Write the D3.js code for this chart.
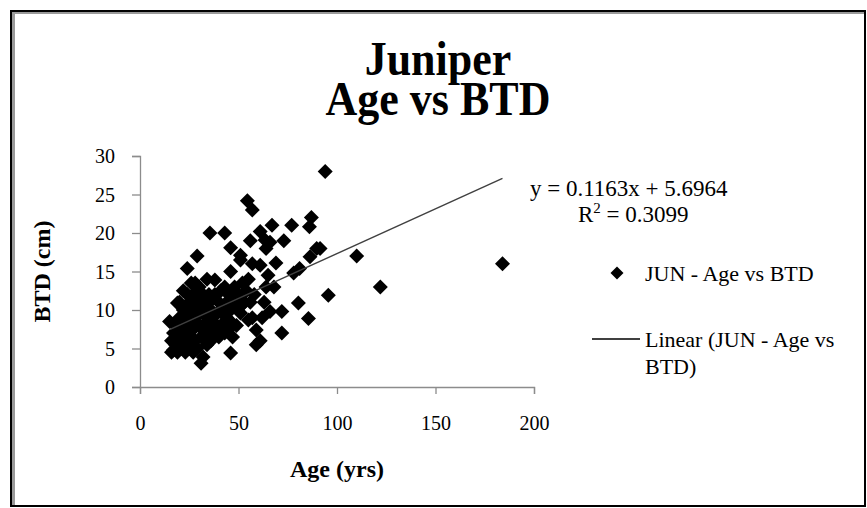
<!DOCTYPE html>
<html>
<head>
<meta charset="utf-8">
<script src="https://cdn.jsdelivr.net/npm/d3@7"></script>
<style>
  html, body { margin: 0; padding: 0; background: #fff; }
  svg { display: block; }
  text { font-family: "Liberation Serif", "Times New Roman", serif; fill: #000; }
</style>
</head>
<body>
<svg id="chart" width="867" height="508"></svg>
<script>
// ---- data ----
const titleLines = ["Juniper", "Age vs BTD"];
const xLabel = "Age (yrs)";
const yLabel = "BTD (cm)";
const seriesName = "JUN - Age vs BTD";
const trendName = ["Linear (JUN - Age vs", "BTD)"];
const xTicks = [0, 50, 100, 150, 200];
const yTicks = [0, 5, 10, 15, 20, 25, 30];
const trendSlope = 0.1163;
const trendIntercept = 5.6964;
const rSquared = 0.3099;

const age = [
  94, 54.5, 57, 35.5, 43, 61, 67, 77, 87, 86, 56, 63.5, 73, 64, 46, 29, 89.7, 91.4, 86.3, 51,
  57, 61, 51, 24, 28, 38, 19, 46, 65, 68, 78, 81, 69, 66, 95.6, 80.4, 85.5, 72, 66, 72,
  59, 61, 46, 32, 31, 17, 15, 55, 59, 51, 46, 110, 122, 184,
  16, 16, 17, 18, 18, 19, 19, 20, 20, 21, 21, 22, 22, 23, 23, 24, 24, 24, 25, 25,
  25, 26, 26, 27, 27, 27, 28, 28, 29, 29, 30, 30, 31, 31, 32, 32, 33, 33, 34, 34,
  35, 35, 36, 36, 37, 37, 38, 38, 39, 40, 40, 41, 41, 42, 43, 43, 44, 44, 45, 45,
  46, 47, 48, 48, 49, 50, 51, 52, 53, 54, 55, 56, 57, 58, 62, 63, 64, 30, 22, 26,
  34, 20
];
const btd = [
  28, 24.2, 23, 20, 20, 20.2, 21, 21, 22, 20.8, 19, 19.1, 19, 18, 18.1, 17, 18, 18, 16.9, 17.1,
  16, 15.8, 16.5, 15.4, 13.5, 13.9, 10.9, 15, 14.5, 13, 14.8, 15.4, 16.1, 18.8, 11.9, 10.9, 8.9, 9.8, 9.8, 7,
  5.5, 6, 4.4, 3.9, 3.1, 4.8, 8.5, 8.7, 7.4, 9.6, 8.5, 17, 13, 16,
  6, 4.5, 7, 5.5, 8, 6.5, 4.5, 7.5, 9, 5, 6, 8, 10, 4.5, 7, 6, 9, 12, 5, 8,
  11, 6.5, 10, 4.5, 7.5, 12, 9, 6, 11, 5, 8, 13, 6.5, 10, 12, 8, 7, 11, 9, 5.5,
  12, 7.5, 10, 6, 11.5, 8.5, 7, 12, 9.5, 6.5, 11, 8, 12.5, 10, 7, 13, 9, 11, 7.5, 12,
  10, 6.5, 11, 13, 8, 12, 10.5, 13.5, 11, 12.5, 14, 11, 9, 12, 9, 11, 13, 9.5, 12.5, 13.5,
  14, 11
];

// ---- layout ----
const svg = d3.select("#chart");
const W = 867, H = 508;
const plot = { left: 140, right: 534, top: 156, bottom: 387 };

const x = d3.scaleLinear().domain([0, 200]).range([plot.left, plot.right]);
const y = d3.scaleLinear().domain([0, 30]).range([plot.bottom, plot.top]);

svg.append("rect").attr("width", W).attr("height", H).attr("fill", "#fff");

// frame
svg.append("rect").attr("x", 11).attr("y", 11).attr("width", 854).attr("height", 495)
  .attr("fill", "none").attr("stroke", "#000").attr("stroke-width", 2);
svg.append("line").attr("x1", 13.5).attr("x2", 13.5).attr("y1", 12).attr("y2", 505)
  .attr("stroke", "#9a9a9a").attr("stroke-width", 3);
svg.append("line").attr("x1", 12).attr("x2", 864).attr("y1", 13).attr("y2", 13)
  .attr("stroke", "#9a9a9a").attr("stroke-width", 2);

function txt(str, tx, ty, opts = {}) {
  const t = svg.append("text")
    .attr("transform", `translate(${tx},${ty}) rotate(${opts.rot || 0}) scale(${opts.sx || 1},${opts.sy || 1})`)
    .attr("font-size", opts.size || 20)
    .attr("font-weight", opts.bold ? "bold" : "normal")
    .attr("text-anchor", opts.anchor || "start")
    .text(str);
  return t;
}

// title
txt(titleLines[0], 438, 75, { size: 44, bold: true, anchor: "middle", sy: 1.12 });
txt(titleLines[1], 438, 115, { size: 44, bold: true, anchor: "middle", sy: 1.12 });

// axes
const axisColor = "#8c8c8c";
const xAxis = svg.append("g").attr("transform", `translate(0,${plot.bottom})`)
  .call(d3.axisBottom(x).tickValues(xTicks).tickSize(7).tickFormat(d3.format("d")));
const yAxis = svg.append("g").attr("transform", `translate(${plot.left},0)`)
  .call(d3.axisLeft(y).tickValues(yTicks).tickSize(8).tickFormat(d3.format("d")));
[xAxis, yAxis].forEach(a => {
  a.select(".domain").attr("stroke", axisColor).attr("stroke-width", 1.3);
  a.selectAll(".tick line").attr("stroke", axisColor).attr("stroke-width", 1.3);
  a.selectAll(".tick text").attr("font-family", "Liberation Serif, serif").attr("font-size", 20).attr("fill", "#000");
});
xAxis.selectAll(".tick text").attr("dy", null).attr("y", 43);
yAxis.selectAll(".tick text").attr("x", -25).attr("dy", "0.34em");

// axis titles
txt(xLabel, (plot.left + plot.right) / 2, 477, { size: 24, bold: true, anchor: "middle" });
txt(yLabel, 50, (plot.top + plot.bottom) / 2, { size: 24, bold: true, anchor: "middle", rot: -90 });

// points
const pts = age.map((a, i) => ({ a, b: btd[i] }));
const diamond = r => `M0,${-r}L${r},0L0,${r}L${-r},0Z`;
svg.append("g").selectAll("path").data(pts).join("path")
  .attr("d", diamond(7.5))
  .attr("transform", d => `translate(${x(d.a)},${y(d.b)})`)
  .attr("fill", "#000");

// trendline
const xr = d3.extent(age);
svg.append("line")
  .attr("x1", x(xr[0])).attr("y1", y(trendSlope * xr[0] + trendIntercept))
  .attr("x2", x(xr[1])).attr("y2", y(trendSlope * xr[1] + trendIntercept))
  .attr("stroke", "#404040").attr("stroke-width", 1.4);

// equation
txt(`y = ${trendSlope}x + ${trendIntercept}`, 530, 196, { size: 23 });
const r2 = svg.append("text").attr("x", 578).attr("y", 222).attr("font-size", 23);
r2.append("tspan").text("R");
r2.append("tspan").attr("font-size", 15).attr("dy", -9).text("2");
r2.append("tspan").attr("dy", 9).text(` = ${rSquared}`);

// legend
svg.append("path").attr("d", diamond(6.5)).attr("transform", "translate(617,273)").attr("fill", "#000");
txt(seriesName, 645, 281, { size: 22 });
svg.append("line").attr("x1", 592).attr("x2", 640).attr("y1", 339).attr("y2", 339)
  .attr("stroke", "#000").attr("stroke-width", 1.3);
txt(trendName[0], 645, 347, { size: 22 });
txt(trendName[1], 645, 374, { size: 22 });
</script>
</body>
</html>
